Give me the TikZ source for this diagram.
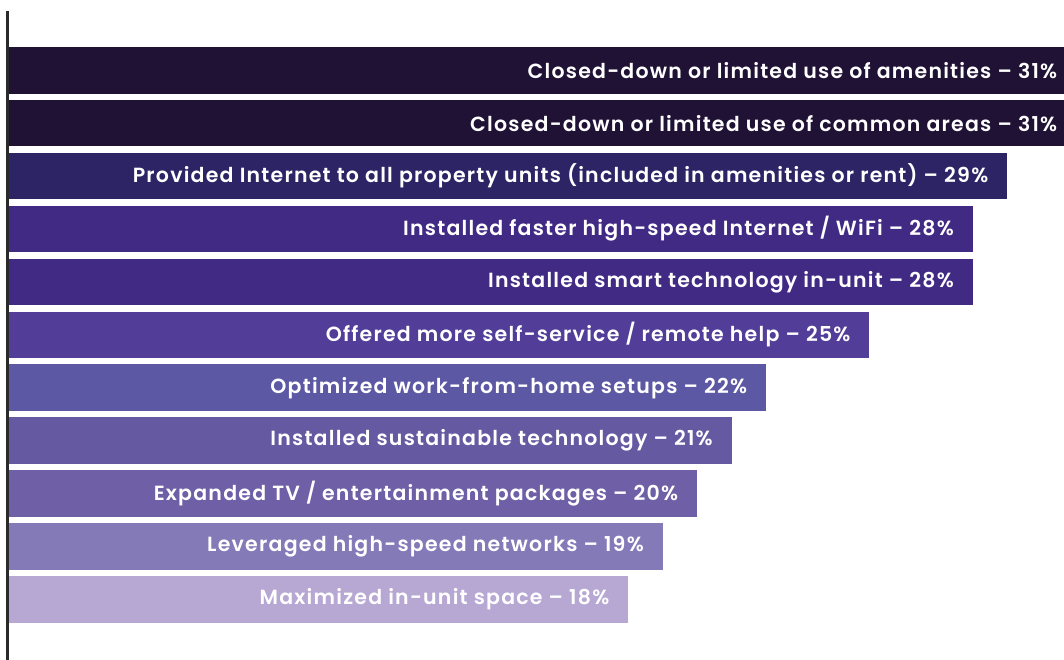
\documentclass[tikz,border=0pt]{standalone}
\usepackage{fontspec}
\setmainfont{Poppins}[BoldFont={Poppins SemiBold}]
\definecolor{barA}{RGB}{31,18,53}
\definecolor{barB}{RGB}{45,36,102}
\definecolor{barC}{RGB}{65,42,132}
\definecolor{barD}{RGB}{82,62,152}
\definecolor{barE}{RGB}{92,88,164}
\definecolor{barF}{RGB}{101,90,162}
\definecolor{barG}{RGB}{111,95,166}
\definecolor{barH}{RGB}{132,122,184}
\definecolor{barI}{RGB}{183,167,211}
\definecolor{axisgray}{RGB}{42,42,42}
\usetikzlibrary{positioning}
\newfontfamily\barfont[LetterSpace=6]{Poppins SemiBold}

\begin{document}
\begin{tikzpicture}[
  x=1pt,
  y=-1pt,
  bar/.style={
    draw=none,
    rectangle,
    anchor=west,
    minimum height=46.5pt,
    inner sep=0pt
    },
  barlabel/.style={
    text=white,
    font=\barfont\fontsize{20.5}{23}\selectfont,
    inner sep=0pt,
    anchor=east
    },
  axisline/.style={
    draw=axisgray,
    line width=2.6pt
    }
]
\useasboundingbox (0,0) rectangle (1064,660);

\foreach \Pct/\Col/\Txt [count=\Bari from 1] in {
  31/barA/{Closed-down or limited use of amenities},
  31/barA/{Closed-down or limited use of common areas},
  29/barB/{Provided Internet to all property units (included in amenities or rent)},
  28/barC/{Installed faster high-speed Internet / WiFi},
  28/barC/{Installed smart technology in-unit},
  25/barD/{Offered more self-service / remote help},
  22/barE/{Optimized work-from-home setups},
  21/barF/{Installed sustainable technology},
  20/barG/{Expanded TV / entertainment packages},
  19/barH/{Leveraged high-speed networks},
  18/barI/{Maximized in-unit space}}
{
  \node[bar, fill=\Col, minimum width={34.45pt*\Pct}]
    (bar\Bari) at (8, {70.3+52.9*(\Bari-1)}) {};
  \node[barlabel, left=19pt of bar\Bari.east]
    (label\Bari) {\Txt{} – \Pct\%};
}

\coordinate (axtop) at (7.5,11);
\coordinate (axbot) at (7.5,660);
\draw[axisline] (axtop) -- (axbot);

\end{tikzpicture}
\end{document}
